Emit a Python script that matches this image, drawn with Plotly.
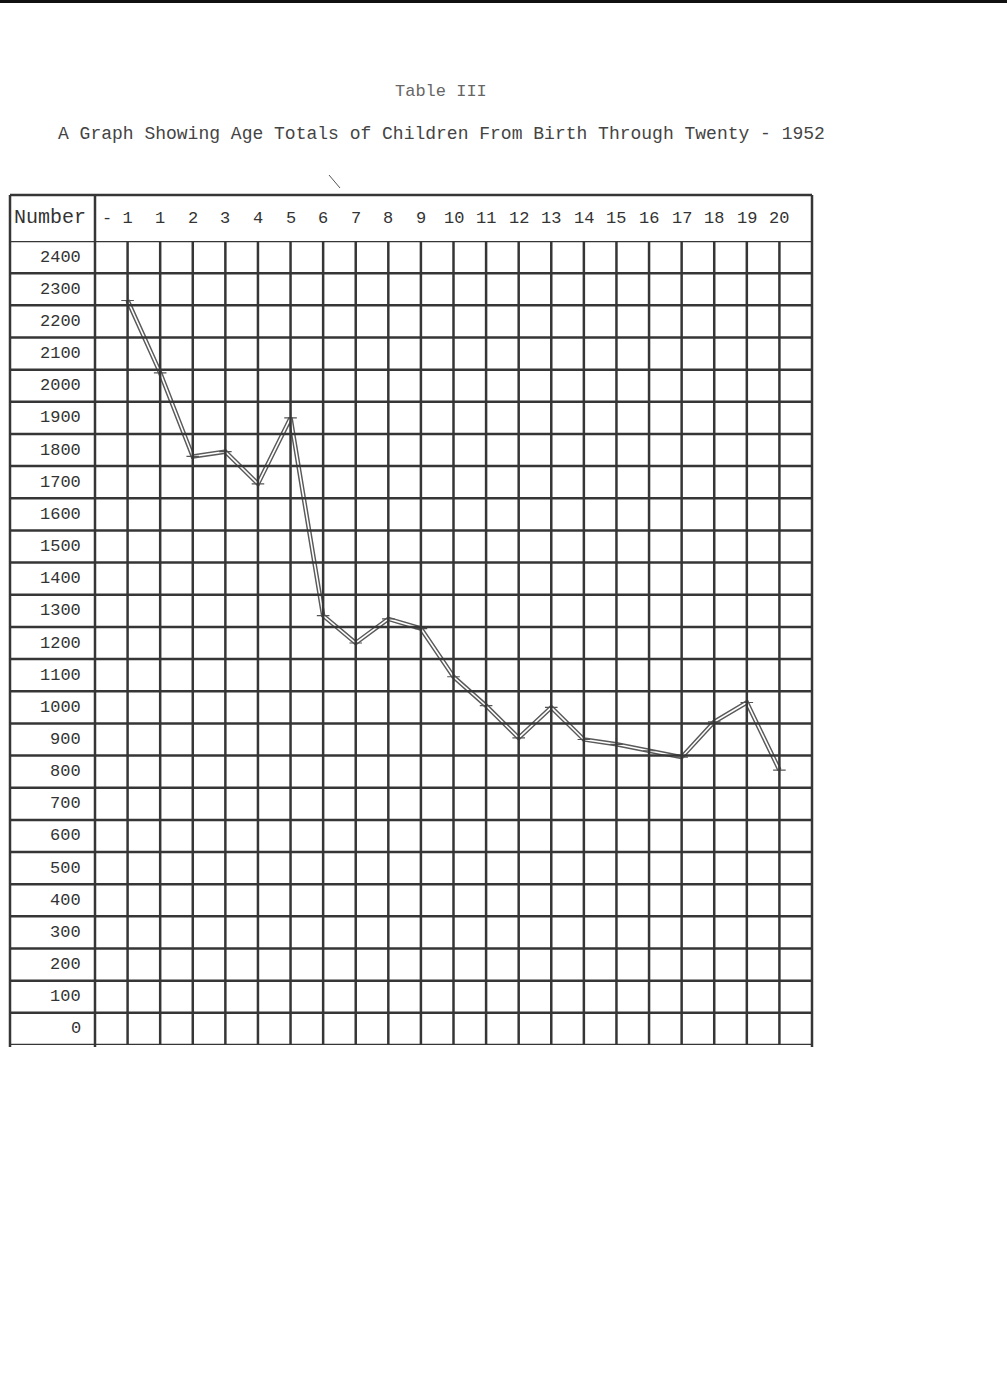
import plotly.graph_objects as go

# ---- data ----
age_labels = ["-1", "1", "2", "3", "4", "5", "6", "7", "8", "9", "10",
              "11", "12", "13", "14", "15", "16", "17", "18", "19", "20"]
children_totals = [2315, 2090, 1830, 1845, 1745, 1950, 1335, 1250, 1325, 1295, 1145,
                   1055, 955, 1050, 950, 935, 915, 895, 1005, 1065, 855]
row_labels = [0, 100, 200, 300, 400, 500, 600, 700, 800, 900, 1000, 1100, 1200,
              1300, 1400, 1500, 1600, 1700, 1800, 1900, 2000, 2100, 2200, 2300, 2400]
title_text = "Table III"
subtitle_text = "A Graph Showing Age Totals of Children From Birth Through Twenty - 1952"
header_text = "Number"

# ---- layout constants (pixels) ----
W, H = 1007, 1380
L, R, T, B = 95, 812, 241, 1045
PW, PH = R - L, B - T


def px_x(p):
    return (p - L) / PW


def px_y(p):
    return (B - p) / PH


FONT = "Liberation Mono, Courier New, monospace"
GRID = "#363636"
GW = 2.5
xs = list(range(len(age_labels)))

fig = go.Figure()
# hollow (double-stroke) line like the hand-drawn original
fig.add_trace(go.Scatter(x=xs, y=children_totals, mode="lines",
                         line=dict(color="#5a5a5a", width=4.5), hoverinfo="skip",
                         showlegend=False))
fig.add_trace(go.Scatter(x=xs, y=children_totals, mode="lines+markers",
                         line=dict(color="#ffffff", width=1.6),
                         marker=dict(symbol="cross-thin", size=9,
                                     line=dict(color="#555555", width=1.2)),
                         showlegend=False))

shapes = []
ymax = row_labels[-1] + 100
# horizontal rules across label column and plot
for v in row_labels + [ymax]:
    shapes.append(dict(type="line", xref="paper", yref="y", x0=px_x(10), x1=1,
                       y0=v, y1=v, line=dict(color=GRID, width=GW), layer="above"))
# vertical rules at each age
for i in xs:
    shapes.append(dict(type="line", xref="x", yref="paper", x0=i, x1=i,
                       y0=0, y1=1, line=dict(color=GRID, width=GW), layer="above"))
# frame: header top, left edge, label column edge, right edge
shapes.append(dict(type="line", xref="paper", yref="paper", x0=px_x(10), x1=1,
                   y0=px_y(195), y1=px_y(195), line=dict(color=GRID, width=GW)))
for xp in (px_x(10), 0, 1):
    shapes.append(dict(type="line", xref="paper", yref="paper", x0=xp, x1=xp,
                       y0=px_y(1047), y1=px_y(195), line=dict(color=GRID, width=GW)))
# scan edge at top of page and a stray pen stroke
shapes.append(dict(type="rect", xref="paper", yref="paper", x0=px_x(0), x1=px_x(W),
                   y0=px_y(3), y1=px_y(0), fillcolor="#111111", line=dict(width=0)))
shapes.append(dict(type="line", xref="paper", yref="paper", x0=px_x(329), x1=px_x(340),
                   y0=px_y(175), y1=px_y(188), line=dict(color="#555555", width=1)))

annotations = []
for v in row_labels:
    annotations.append(dict(x=px_x(83), xref="paper", y=v + 50, yref="y",
                            text=f"{v}", showarrow=False, xanchor="right",
                            yanchor="middle",
                            font=dict(family=FONT, size=17, color="#333333")))
for i, lab in enumerate(age_labels):
    txt = lab.replace("-", "-\u00a0")
    shift = -10 if lab.startswith("-") else 0
    annotations.append(dict(x=i, xref="x", y=px_y(219), yref="paper", text=txt,
                            xshift=shift, showarrow=False, xanchor="center",
                            yanchor="middle",
                            font=dict(family=FONT, size=17, color="#333333")))
annotations.append(dict(x=px_x(50), xref="paper", y=px_y(218), yref="paper",
                        text=header_text, showarrow=False, xanchor="center",
                        yanchor="middle", font=dict(family=FONT, size=20, color="#333333")))
annotations.append(dict(x=px_x(441), xref="paper", y=px_y(91), yref="paper",
                        text=title_text, showarrow=False, xanchor="center",
                        yanchor="middle", font=dict(family=FONT, size=17, color="#666666")))
annotations.append(dict(x=px_x(441), xref="paper", y=px_y(134), yref="paper",
                        text=subtitle_text, showarrow=False, xanchor="center",
                        yanchor="middle", font=dict(family=FONT, size=18, color="#444444")))

fig.update_layout(
    width=W, height=H, autosize=False,
    margin=dict(l=L, r=W - R, t=T, b=H - B, pad=0),
    paper_bgcolor="white", plot_bgcolor="white",
    xaxis=dict(range=[-1, len(age_labels)], showgrid=False, zeroline=False,
               showticklabels=False, ticks="", fixedrange=True),
    yaxis=dict(range=[0, ymax], showgrid=False, zeroline=False,
               showticklabels=False, ticks="", fixedrange=True),
    shapes=shapes, annotations=annotations, showlegend=False,
)

fig.write_html("out.html", config={"displayModeBar": False},
               post_script="document.body.style.margin='0';document.body.style.overflow='hidden';")
